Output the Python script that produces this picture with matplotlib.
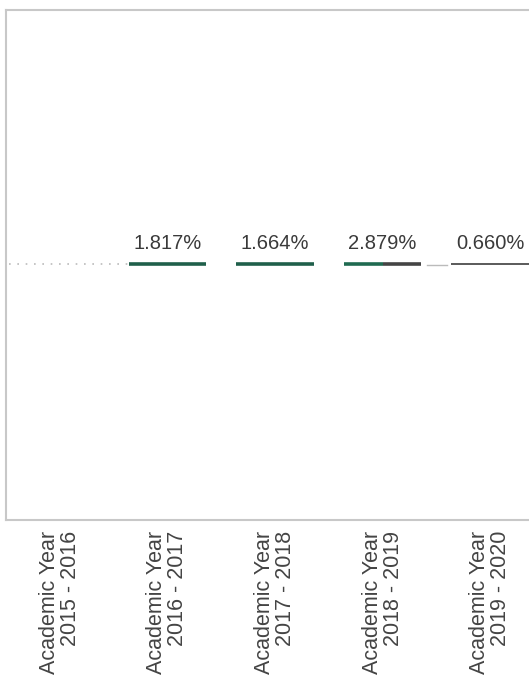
import matplotlib.pyplot as plt

# data
years = ['Academic Year\n2015 - 2016', 'Academic Year\n2016 - 2017',
         'Academic Year\n2017 - 2018', 'Academic Year\n2018 - 2019',
         'Academic Year\n2019 - 2020']
values = [None, 1.817, 1.664, 2.879, 0.660]
labels = ['', '1.817%', '1.664%', '2.879%', '0.660%']
colors = ['#bbbbbb', '#1f5f4a', '#1f5f4a', '#1f5f4a', '#5a5a5a']

fig = plt.figure(figsize=(5.29, 6.81), dpi=100)
ax = fig.add_axes([6 / 529, (681 - 520) / 681, 538 / 529, 510 / 681])
ax.set_xlim(-0.5, 4.5)
ax.set_ylim(0, 1)

level = 0.502
half = 0.36
for i, v in enumerate(values):
    if v is None:
        # empty pane, dotted placeholder
        ax.plot([-0.47, i + 1 - half], [level, level], color=colors[i],
                linestyle=(0, (1, 4)), linewidth=1.2)
        continue
    if i == 3:
        # segment is half green, half grey
        ax.plot([i - half, i], [level, level], color='#1f6a50', linewidth=2.6,
                solid_capstyle='butt')
        ax.plot([i, i + half], [level, level], color='#444444', linewidth=2.6,
                solid_capstyle='butt')
        ax.plot([i + half + 0.05, i + 0.6], [level - 0.002, level - 0.002],
                color='#bbbbbb', linewidth=1.0)
    elif i == 4:
        ax.plot([i - half, i + half], [level, level], color=colors[i],
                linewidth=1.4, solid_capstyle='butt')
    else:
        ax.plot([i - half, i + half], [level, level], color=colors[i],
                linewidth=2.6, solid_capstyle='butt')
    ax.text(i, level + 0.022, labels[i], ha='center', va='bottom',
            fontsize=14.5, color='#3a3a3a', family='Liberation Sans')

ax.set_xticks(range(len(years)))
ax.set_xticklabels(years, rotation=90, fontsize=15.5, color='#444444',
                   family='Liberation Sans', va='top', ha='center',
                   multialignment='right', linespacing=1.0)
ax.tick_params(axis='x', length=0, pad=8)
ax.set_yticks([])
for s in ax.spines.values():
    s.set_color('#c8c8c8')
    s.set_linewidth(1.5)

fig.savefig('out.png', dpi=100)
